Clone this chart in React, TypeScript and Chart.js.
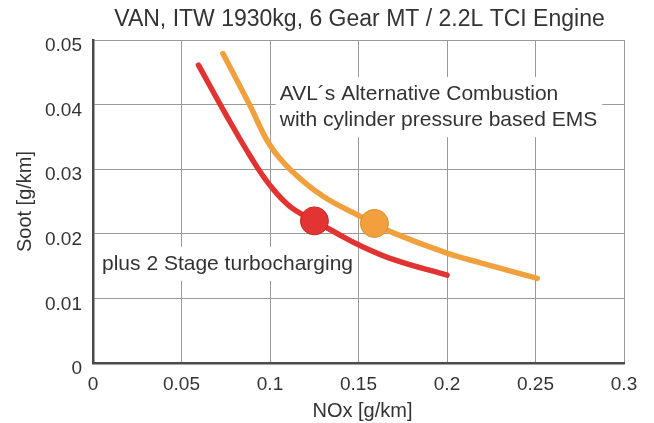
import React, { useEffect, useRef } from "react";
import { Chart, registerables } from "chart.js";

Chart.register(...registerables);

const titleText = "VAN, ITW 1930kg, 6 Gear MT / 2.2L TCI Engine";
const xAxisTitle = "NOx [g/km]";
const yAxisTitle = "Soot [g/km]";
const xTickLabels = ["0", "0.05", "0.1", "0.15", "0.2", "0.25", "0.3"];
const yTickLabels = ["0", "0.01", "0.02", "0.03", "0.04", "0.05"];

// Red curve: plus 2 Stage turbocharging
const redNox = [0.0596, 0.075, 0.09, 0.1, 0.111, 0.125, 0.137, 0.15, 0.17, 0.2];
const redSoot = [0.0461, 0.0385, 0.0315, 0.0275, 0.0243, 0.022, 0.0202, 0.0183, 0.0160, 0.0136];
// Orange curve: AVL's Alternative Combustion
const orangeNox = [0.0734, 0.0884, 0.1, 0.112, 0.13, 0.151, 0.159, 0.17, 0.2, 0.219, 0.251];
const orangeSoot = [0.0479, 0.04, 0.0337, 0.0298, 0.0258, 0.0227, 0.0216, 0.0201, 0.017, 0.0155, 0.0131];
// Highlighted operating points
const redMarkerNox = [0.1251];
const redMarkerSoot = [0.022];
const orangeMarkerNox = [0.159];
const orangeMarkerSoot = [0.0216];

const avlLines = ["AVL\u00B4s Alternative Combustion", "with cylinder pressure based EMS"];
const turboLines = ["plus 2 Stage turbocharging"];

const FONT = "'Liberation Sans', Arial, sans-serif";
const TEXT = "#333333";

const toPoints = (xs: number[], ys: number[]) => xs.map((x, i) => ({ x, y: ys[i] }));

const annotationPlugin = {
  id: "textAnnotations",
  beforeDatasetsDraw(chart: any) {
    const { ctx, scales } = chart;
    const xs = scales.x;
    const ys = scales.y;
    const drawBlock = (lines: string[], dx: number, dy: number, lineGap: number) => {
      const left = xs.getPixelForValue(dx);
      const base = ys.getPixelForValue(dy);
      ctx.save();
      ctx.font = `21px ${FONT}`;
      let w = 0;
      lines.forEach((l) => (w = Math.max(w, ctx.measureText(l).width)));
      ctx.fillStyle = "#ffffff";
      ctx.fillRect(left - 4, base - 23, w + 9, 23 + 11 + lineGap * (lines.length - 1));
      ctx.fillStyle = TEXT;
      ctx.textAlign = "left";
      ctx.textBaseline = "alphabetic";
      lines.forEach((l, i) => ctx.fillText(l, left, base + i * lineGap));
      ctx.restore();
    };
    drawBlock(avlLines, 0.1055, 0.0407, 26);
    drawBlock(turboLines, 0.0051, 0.01442, 26);
  },
  afterDraw(chart: any) {
    const { ctx, chartArea } = chart;
    const cx = (chartArea.left + chartArea.right) / 2;
    const cy = (chartArea.top + chartArea.bottom) / 2;
    ctx.save();
    ctx.fillStyle = TEXT;
    ctx.textAlign = "center";
    ctx.textBaseline = "alphabetic";
    ctx.font = `23px ${FONT}`;
    ctx.fillText(titleText, cx + 1, 26);
    ctx.font = `20px ${FONT}`;
    ctx.textBaseline = "middle";
    ctx.fillText(xAxisTitle, cx + 4, 411);
    ctx.translate(25, cy);
    ctx.rotate(-Math.PI / 2);
    ctx.fillText(yAxisTitle, 0, 0);
    ctx.restore();
  },
};

export default function App() {
  const ref = useRef<HTMLCanvasElement | null>(null);
  useEffect(() => {
    if (!ref.current) return;
    const chart = new Chart(ref.current, {
      type: "line",
      data: {
        datasets: [
          {
            label: "marker red",
            data: toPoints(redMarkerNox, redMarkerSoot),
            showLine: false,
            pointRadius: 14,
            pointBackgroundColor: "#e33434",
            pointBorderColor: "#c62828",
            pointBorderWidth: 1,
          },
          {
            label: "marker orange",
            data: toPoints(orangeMarkerNox, orangeMarkerSoot),
            showLine: false,
            pointRadius: 14,
            pointBackgroundColor: "#f1a03d",
            pointBorderColor: "#d98a2a",
            pointBorderWidth: 1,
          },
          {
            label: "plus 2 Stage turbocharging",
            data: toPoints(redNox, redSoot),
            borderColor: "#e23333",
            borderWidth: 5.5,
            borderCapStyle: "round",
            borderJoinStyle: "round",
            pointRadius: 0,
            tension: 0.4,
            fill: false,
          },
          {
            label: "AVL Alternative Combustion",
            data: toPoints(orangeNox, orangeSoot),
            borderColor: "#f0a03c",
            borderWidth: 5.5,
            borderCapStyle: "round",
            borderJoinStyle: "round",
            pointRadius: 0,
            tension: 0.4,
            fill: false,
          },
        ],
      },
      options: {
        animation: false,
        responsive: false,
        events: [],
        layout: { padding: { top: 40, right: 30, left: 0, bottom: 0 } },
        plugins: {
          legend: { display: false },
          tooltip: { enabled: false },
          title: { display: false },
        },
        scales: {
          x: {
            type: "linear",
            min: 0,
            max: 0.3,
            afterFit: (s: any) => {
              s.height = 60;
            },
            grid: { color: "#999999", lineWidth: 1, drawTicks: false },
            border: { display: true, color: "#4a4a4a", width: 2.5 },
            ticks: {
              stepSize: 0.05,
              padding: 10,
              color: TEXT,
              font: { family: FONT, size: 19 },
              maxRotation: 0,
              autoSkip: false,
              callback: (_v: any, i: number) => xTickLabels[i],
            },
          },
          y: {
            type: "linear",
            min: 0,
            max: 0.05,
            afterFit: (s: any) => {
              s.width = 93;
            },
            grid: { color: "#999999", lineWidth: 1, drawTicks: false },
            border: { display: true, color: "#4a4a4a", width: 2.5 },
            ticks: {
              stepSize: 0.01,
              padding: 11,
              labelOffset: 6,
              color: TEXT,
              font: { family: FONT, size: 19 },
              autoSkip: false,
              callback: (_v: any, i: number) => yTickLabels[i],
            },
          },
        },
      },
      plugins: [annotationPlugin],
    });
    return () => chart.destroy();
  }, []);
  return (
    <div style={{ position: "fixed", left: 0, top: 0, width: 654, height: 423, background: "#fff" }}>
      <canvas ref={ref} width={654} height={423} />
    </div>
  );
}
